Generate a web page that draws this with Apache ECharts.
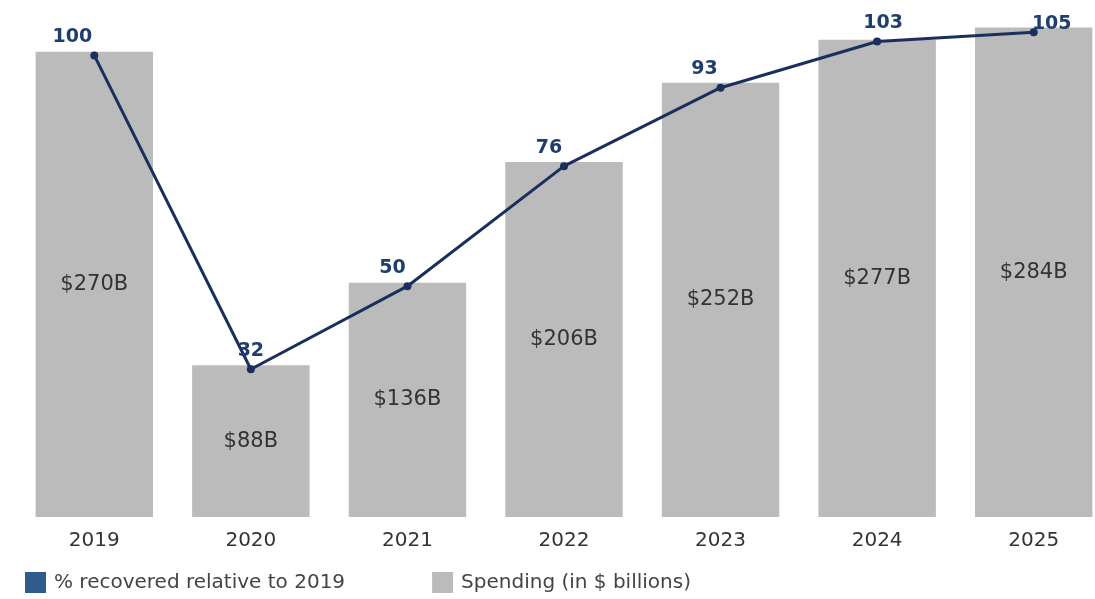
<!DOCTYPE html>
<html>
<head>
<meta charset="utf-8">
<script src="https://cdn.jsdelivr.net/npm/echarts@6/dist/echarts.min.js"></script>
<style>
  html, body { margin: 0; padding: 0; background: #ffffff; }
  #chart { width: 1095px; height: 599px; }
</style>
</head>
<body>
<div id="chart"></div>
<script>
// Years on the x axis
const years = ['2019', '2020', '2021', '2022', '2023', '2024', '2025'];
// Spending in $ billions (bars)
const spending = [270, 88, 136, 206, 252, 277, 284];
// Share recovered relative to 2019, in percent (line)
const recovered = [100, 32, 50, 76, 93, 103, 105];

// Nudges for the line's value labels so they clear the line
const labelShift = [[-22, 0], [0, 0], [-15, 0], [-15, 0], [-16, 0], [6, 0], [18, 10]];

const FONT = 'DejaVu Sans';
const BAR_GREY = '#bbbbbb';
const LINE_NAVY = '#1b2f5e';
const LEGEND_BLUE = '#2f5c8c';

const chart = echarts.init(document.getElementById('chart'), null, { renderer: 'canvas' });

chart.setOption({
  animation: false,
  backgroundColor: '#ffffff',
  textStyle: { fontFamily: FONT },
  grid: {
    left: 16, right: -17, top: 0, bottom: 82,
    containLabel: false,
    outerBoundsMode: 'none'
  },
  legend: {
    left: 20,
    top: 567,
    itemWidth: 21,
    itemHeight: 21,
    itemGap: 87,
    textStyle: { fontFamily: FONT, fontSize: 20, color: '#444444', padding: [0, 0, 0, 3] },
    data: [
      { name: '% recovered relative to 2019', icon: 'rect', itemStyle: { color: LEGEND_BLUE } },
      { name: 'Spending (in $ billions)', icon: 'rect', itemStyle: { color: BAR_GREY } }
    ]
  },
  xAxis: {
    type: 'category',
    data: years,
    axisLine: { show: false },
    axisTick: { show: false },
    axisLabel: { fontFamily: FONT, fontSize: 20, color: '#333333', margin: 14 }
  },
  yAxis: [
    { type: 'value', min: 0, max: 300, show: false, splitLine: { show: false } },
    { type: 'value', min: 0, max: 112, show: false, splitLine: { show: false } }
  ],
  series: [
    {
      name: 'Spending (in $ billions)',
      type: 'bar',
      yAxisIndex: 0,
      data: spending,
      barWidth: '75%',
      itemStyle: { color: BAR_GREY },
      label: {
        show: true,
        position: 'inside',
        fontFamily: FONT,
        fontSize: 21,
        color: '#333333',
        formatter: p => '$' + p.value + 'B'
      },
      z: 1
    },
    {
      name: '% recovered relative to 2019',
      type: 'line',
      yAxisIndex: 1,
      data: recovered.map((v, i) => ({
        value: v,
        label: { offset: labelShift[i] }
      })),
      symbol: 'circle',
      symbolSize: 8,
      lineStyle: { color: LINE_NAVY, width: 3 },
      itemStyle: { color: LINE_NAVY },
      label: {
        show: true,
        position: 'top',
        distance: 5,
        fontFamily: FONT,
        fontSize: 19,
        fontWeight: 'bold',
        color: '#1f3e6e'
      },
      z: 3
    }
  ]
});
</script>
</body>
</html>
